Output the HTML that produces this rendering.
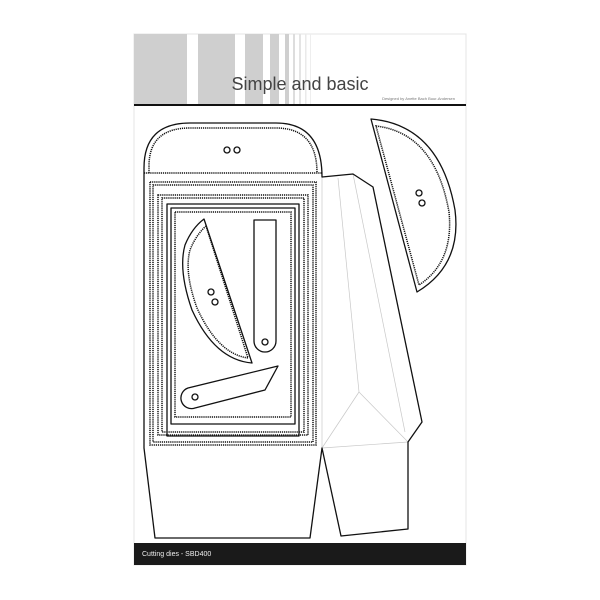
<!DOCTYPE html>
<html><head><meta charset="utf-8"><style>
html,body{margin:0;padding:0;background:#fff;width:600px;height:600px;overflow:hidden}
svg{display:block}
</style></head><body>
<svg width="600" height="600" viewBox="0 0 600 600" xmlns="http://www.w3.org/2000/svg">
<rect x="134" y="34" width="332" height="531" fill="#fff" stroke="#e4e4e4" stroke-width="1"/>
<g fill="#cfcfcf">
<rect x="134" y="34" width="53" height="70"/>
<rect x="198" y="34" width="37" height="70"/>
<rect x="245" y="34" width="18" height="70"/>
<rect x="270" y="34" width="9" height="70"/>
<rect x="285" y="34" width="4" height="70"/>
<rect x="293" y="34" width="2" height="70" fill="#ddd"/>
<rect x="299" y="34" width="2" height="70" fill="#e4e4e4"/>
<rect x="305" y="34" width="1.5" height="70" fill="#eaeaea"/>
<rect x="310" y="34" width="1" height="70" fill="#eee"/>
</g>
<rect x="134" y="104" width="332" height="2" fill="#111"/>
<text x="300" y="90" text-anchor="middle" font-family="Liberation Sans, sans-serif" font-size="18" fill="#444">Simple and basic</text>
<text x="455" y="100" text-anchor="end" font-family="Liberation Sans, sans-serif" font-size="4" fill="#777">Designed by Anette Bach Buur-Andersen</text>
<rect x="134" y="543" width="332" height="22" fill="#1a1a1a"/>
<text x="142" y="556" font-family="Liberation Sans, sans-serif" font-size="7" fill="#eee">Cutting dies - SBD400</text>
<g stroke="#c8c8c8" stroke-width="0.7" fill="none">
<line x1="322" y1="177" x2="322" y2="448"/>
<line x1="338" y1="178" x2="359" y2="392"/>
<line x1="353" y1="174" x2="405" y2="432"/>
<line x1="359" y1="392" x2="322" y2="448"/>
<line x1="359" y1="392" x2="408" y2="442"/>
<line x1="322" y1="448" x2="408" y2="442"/>
</g>
<g stroke="#111" stroke-width="1.3" fill="none" stroke-linejoin="round">
<path d="M144,448 L144,168 Q144,123 190,123 L276,123 Q322,123 322,177 L353,174 L373,187 L422,422 L408,442 L408,529 L341,536 L322,448 L310,538 L155,538 Z"/>
<rect x="167" y="204" width="132" height="232"/>
<rect x="171" y="208" width="124" height="216"/>
<path d="M204,219 L252,363 Q215,360 192,310 Q178,270 185,245 Q192,228 204,219 Z"/>
<circle cx="211" cy="292" r="3"/><circle cx="215" cy="302" r="3"/>
<path d="M254,220 L276,220 L276,341 A11,11 0 0 1 254,341 Z"/>
<circle cx="265" cy="342" r="3"/>
<path d="M188,388 L278,366 L265,390 L195,408 A10,10 0 0 1 188,388 Z"/>
<circle cx="195" cy="397" r="3"/>
<path d="M371,119 Q440,125 455,210 Q462,265 417,292 Z"/>
<circle cx="419" cy="193" r="3"/><circle cx="422" cy="203" r="3"/>
<circle cx="227" cy="150" r="3"/><circle cx="237" cy="150" r="3"/>
</g>
<g stroke="#111" stroke-width="1.5" fill="none" stroke-dasharray="1.2 0.9">
<path d="M149,173 L149,166 Q149,128 190,128 L276,128 Q317,128 317,173"/>
<line x1="144" y1="173" x2="322" y2="173"/>
<rect x="150" y="182" width="166" height="263"/>
<rect x="153" y="185" width="160" height="257"/>
<rect x="158" y="195" width="150" height="240"/>
<rect x="162" y="198" width="142" height="234"/>
<rect x="175" y="212" width="116" height="205"/>
<path d="M206,226 L248,358 Q218,354 197,308 Q184,272 190,250 Q196,235 206,226"/>
<path d="M376,126 Q435,133 449,212 Q454,262 419,285 Z"/>
</g>
</svg>
</body></html>
